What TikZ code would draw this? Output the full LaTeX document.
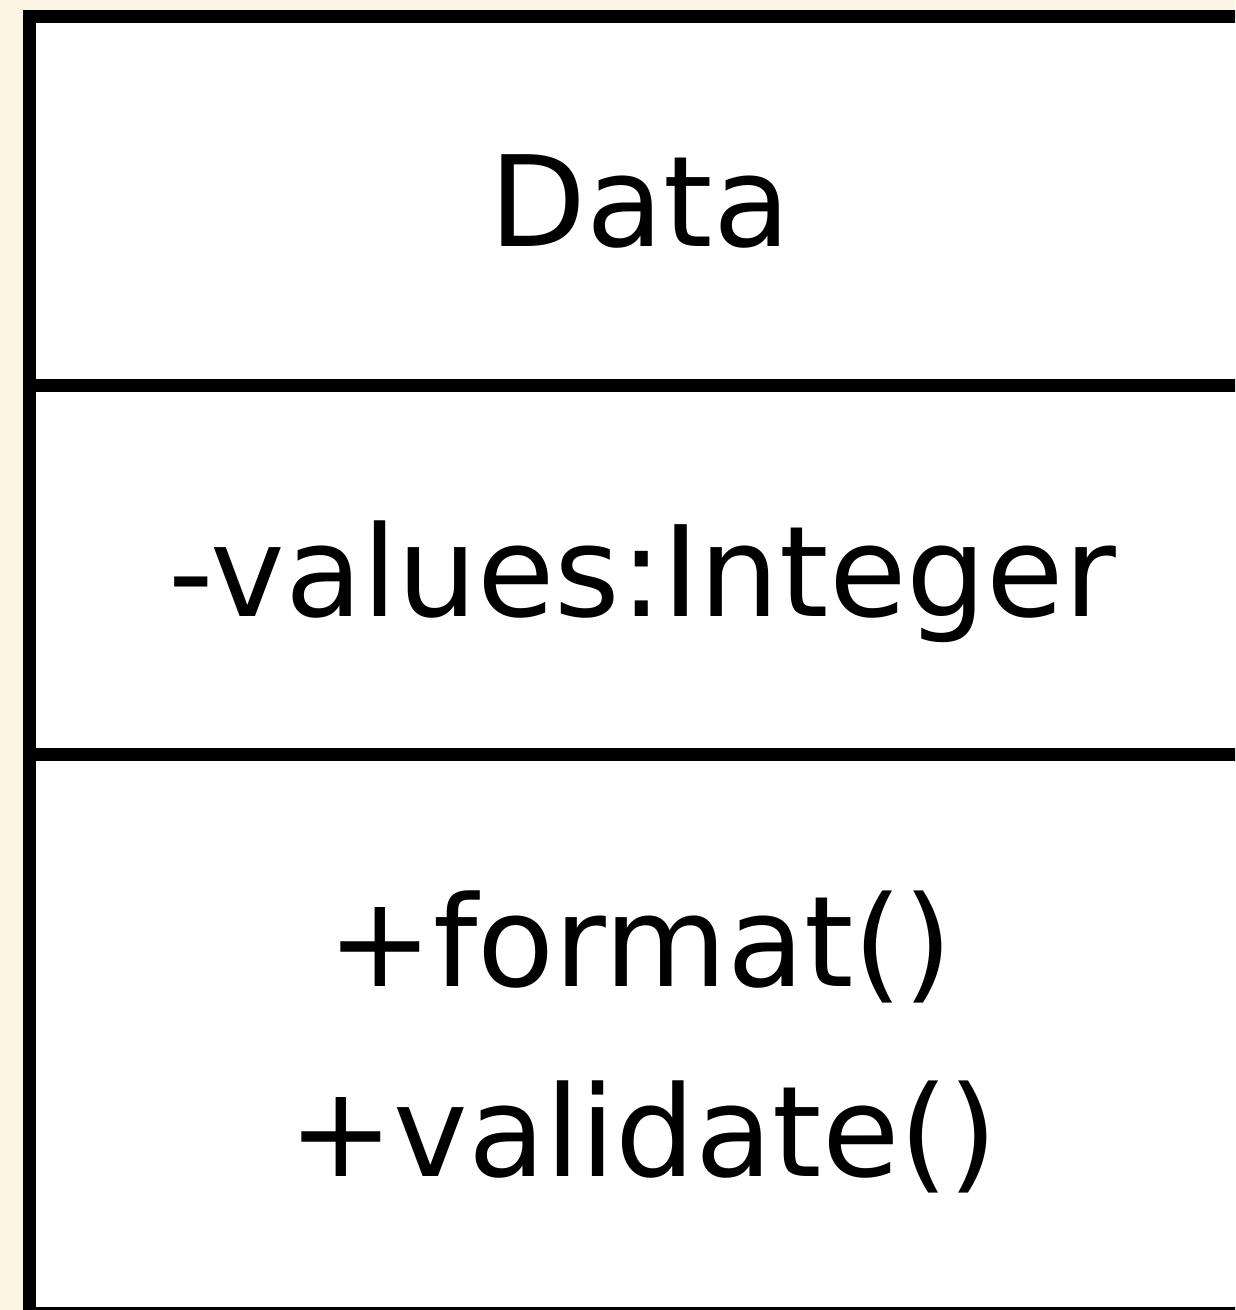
\documentclass[tikz,border=0pt]{standalone}
\usepackage{fontspec}
\setmainfont{DejaVu Sans}
\usetikzlibrary{positioning}
\definecolor{paper}{HTML}{FDF5E4}
\tikzset{
  classbox/.style={draw=black,fill=white,line width=13pt},
  divider/.style={draw=black,line width=13pt},
  memtext/.style={font=\fontsize{126}{190}\selectfont,inner sep=0pt,anchor=base},
}

\begin{document}
\begin{tikzpicture}[x=1pt,y=-1pt]
  \fill[paper] (0,0) rectangle (1235,1310);
  \useasboundingbox (0,0) rectangle (1235,1310);
  \clip (0,0) rectangle (1235,1310);
  % class box, runs off the right and bottom edges
  \coordinate (nw) at (29,16);
  \coordinate (se) at (1251,1313);
  \draw[classbox] (nw) rectangle (se);
  \coordinate (attrW) at (29,385);
  \coordinate (attrE) at (1251,385);
  \coordinate (operW) at (29,754);
  \coordinate (operE) at (1251,754);
  \draw[divider] (attrW) -- (attrE);
  \draw[divider] (operW) -- (operE);
  \node[memtext] (cname) at (640,246.7) {Data};
  \node[memtext] (attr) at (642,616.7) {-values:Integer};
  \node[memtext] (opfmt) at (640,986) {+format()};
  \node[memtext] (opval) at (643,1176) {+validate()};
\end{tikzpicture}
\end{document}
